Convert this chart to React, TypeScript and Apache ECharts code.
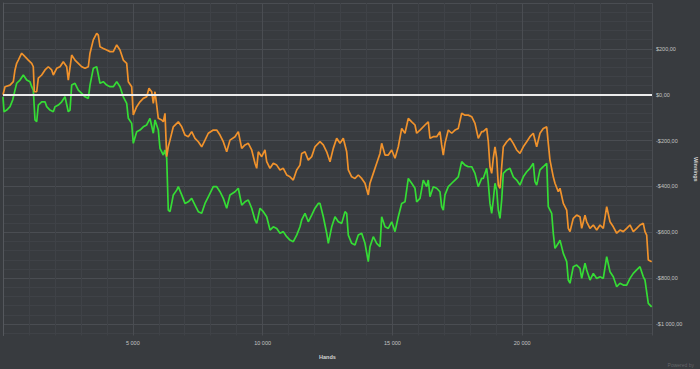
import React, { useEffect, useRef } from "react";
import * as echarts from "echarts";

const orangeHands = [
  0,77,270,398,462,527,590,720,847,975,
  1105,1167,1206,1298,1360,1491,1618,1745,1876,1938,
  2068,2196,2323,2454,2515,2646,2773,2901,3032,3159,
  3286,3351,3478,3609,3671,3736,3864,3995,4122,4249,
  4380,4507,4634,4765,4827,4957,5019,5150,5277,5404,
  5535,5624,5728,5790,5855,5921,5982,6113,6175,6240,
  6306,6367,6433,6560,6753,6884,7011,7138,7269,7396,
  7523,7654,7781,7908,8101,8232,8359,8486,8617,8744,
  8937,9064,9195,9322,9449,9580,9707,9773,9834,9965,
  10092,10158,10285,10412,10543,10670,10797,10928,11055,11182,
  11313,11440,11506,11633,11760,11891,12018,12145,12211,12338,
  12469,12596,12723,12854,12981,13108,13239,13301,13432,13559,
  13686,13817,13944,14071,14136,14264,14395,14522,14587,14715,
  14842,14973,15100,15227,15358,15485,15612,15743,15870,15935,
  16063,16255,16382,16448,16575,16706,16833,16898,16960,17025,
  17153,17284,17411,17538,17669,17796,17923,18054,18181,18308,
  18439,18500,18632,18694,18759,18825,18886,18952,19017,19079,
  19144,19210,19272,19403,19530,19656,19787,19914,20042,20173,
  20300,20427,20558,20685,20812,20944,21005,21070,21197,21263,
  21390,21456,21583,21714,21775,21841,21968,22099,22226,22292,
  22419,22484,22612,22739,22870,22997,23124,23255,23382,23509,
  23640,23767,23894,24025,24152,24279,24410,24537,24664,24730,
  24795,24857,24988,
];

const orangeWinnings = [
  0,35,42,57,108,137,151,181,166,151,
  137,122,13,13,72,86,108,122,108,86,
  115,122,144,122,64,173,151,137,122,115,
  122,181,239,268,260,209,202,195,188,188,
  217,195,151,137,57,35,-88,-52,-31,-16,
  -9,28,13,-38,13,-45,-103,-110,-118,-81,
  -270,-227,-198,-140,-118,-140,-176,-183,-161,-190,
  -205,-227,-198,-168,-154,-154,-176,-205,-249,-198,
  -183,-161,-234,-219,-212,-241,-299,-321,-249,-270,
  -241,-292,-321,-299,-307,-328,-321,-350,-358,-372,
  -328,-307,-256,-249,-285,-270,-227,-212,-205,-219,
  -249,-292,-234,-190,-212,-190,-249,-328,-358,-365,
  -350,-365,-386,-437,-386,-343,-299,-256,-212,-263,
  -263,-241,-277,-227,-147,-168,-103,-118,-132,-168,
  -154,-132,-118,-190,-183,-183,-161,-219,-263,-212,
  -154,-168,-154,-147,-81,-89,-89,-96,-125,-190,
  -161,-161,-147,-205,-314,-343,-277,-227,-277,-394,
  -408,-314,-227,-205,-190,-212,-241,-256,-227,-205,
  -183,-168,-227,-168,-147,-140,-212,-285,-358,-386,
  -423,-408,-474,-503,-583,-597,-539,-525,-532,-583,
  -525,-554,-583,-568,-590,-568,-583,-488,-554,-576,
  -604,-590,-597,-583,-568,-597,-583,-568,-561,-597,
  -612,-721,-728,
];

const greenHands = [
  0,39,142,270,373,462,527,655,783,913,
  1040,1105,1167,1233,1298,1360,1491,1618,1683,1810,
  1938,2003,2130,2261,2388,2515,2581,2646,2773,2901,
  3032,3159,3286,3351,3478,3609,3736,3864,3995,4122,
  4249,4380,4507,4634,4765,4827,4957,5019,5150,5277,
  5404,5535,5662,5790,5855,5982,6048,6175,6240,6306,
  6367,6433,6498,6560,6691,6753,6884,7011,7138,7269,
  7396,7523,7654,7781,7908,8101,8232,8359,8486,8617,
  8744,8937,9064,9195,9322,9449,9580,9707,9773,9900,
  10027,10158,10285,10412,10543,10670,10797,10928,11055,11182,
  11313,11440,11506,11633,11760,11891,12018,12145,12211,12338,
  12469,12531,12662,12789,12916,13047,13174,13239,13301,13432,
  13559,13686,13817,13944,14071,14136,14264,14395,14522,14587,
  14715,14842,14973,15100,15227,15358,15485,15612,15743,15870,
  15935,16063,16190,16321,16382,16448,16575,16706,16833,16898,
  16960,17025,17153,17284,17411,17538,17669,17796,17923,18054,
  18181,18308,18439,18500,18632,18694,18759,18825,18886,18952,
  19017,19079,19144,19210,19272,19403,19530,19656,19787,19914,
  20042,20173,20300,20427,20493,20558,20685,20812,20944,21005,
  21136,21197,21263,21390,21456,21583,21714,21775,21841,21968,
  22099,22226,22292,22419,22484,22612,22739,22870,22997,23124,
  23255,23382,23509,23640,23767,23894,24025,24152,24279,24410,
  24537,24664,24730,24857,24988,
];

const greenWinnings = [
  -9,-74,-67,-52,-23,20,50,64,86,64,
  57,35,20,-110,-118,-45,-31,-31,-52,-67,
  -74,-52,-45,-31,-9,-74,-67,42,50,20,
  6,-9,-16,42,115,122,50,57,42,35,
  35,57,35,-9,-38,-103,-125,-212,-161,-154,
  -140,-132,-103,-168,-110,-154,-234,-263,-241,-277,
  -503,-510,-474,-437,-416,-401,-437,-474,-467,-452,
  -481,-510,-517,-474,-445,-401,-401,-423,-452,-495,
  -437,-423,-408,-481,-467,-459,-495,-546,-561,-495,
  -510,-532,-590,-576,-583,-604,-597,-619,-634,-641,
  -612,-576,-546,-517,-554,-525,-495,-474,-474,-532,
  -604,-648,-576,-532,-554,-561,-510,-517,-612,-648,
  -655,-612,-604,-648,-728,-663,-619,-648,-663,-532,
  -576,-583,-554,-597,-532,-474,-467,-365,-386,-408,
  -467,-452,-372,-401,-372,-445,-401,-408,-423,-488,
  -503,-437,-401,-386,-372,-358,-292,-307,-314,-314,
  -343,-401,-365,-365,-321,-386,-474,-517,-459,-386,
  -416,-503,-539,-459,-343,-328,-321,-358,-372,-394,
  -358,-336,-321,-299,-379,-394,-328,-314,-299,-488,
  -517,-604,-670,-648,-634,-692,-728,-808,-822,-750,
  -743,-757,-801,-735,-764,-808,-779,-801,-794,-801,
  -706,-772,-794,-837,-822,-830,-830,-801,-779,-764,
  -750,-794,-808,-910,-925,
];

const xLabelValues = [5000, 10000, 15000, 20000];
const yLabelValues = [200, 0, -200, -400, -600, -800, -1000];

const BG = "#383b3f";
const MINOR = "#3f4247";
const MAJOR = "#4a4d52";
const NONE = "rgba(0,0,0,0)";

function groupThousands(n: number): string {
  return String(n).replace(/\B(?=(\d{3})+(?!\d))/g, " ");
}

function fmtMoney(v: number): string {
  const sign = v < 0 ? "-" : "";
  return sign + "$" + groupThousands(Math.abs(Math.round(v))) + ",00";
}

export default function App() {
  const ref = useRef<HTMLDivElement>(null);

  useEffect(() => {
    document.body.style.margin = "0";
    document.body.style.background = BG;
    if (!ref.current) return;
    const chart = echarts.init(ref.current, undefined, { renderer: "svg" });

    // y split lines every 10 from -1050: lines every 40 (minor), every 200 (major)
    const yColors: string[] = [];
    for (let i = 0; i < 20; i++) {
      if (i === 5) yColors.push(MAJOR);
      else if (i % 4 === 1) yColors.push(MINOR);
      else yColors.push(NONE);
    }

    const orangeData = orangeHands.map((h, i) => [h, orangeWinnings[i]]);
    const greenData = greenHands.map((h, i) => [h, greenWinnings[i]]);

    const font = "'Liberation Sans', Arial, sans-serif";

    chart.setOption({
      animation: false,
      backgroundColor: BG,
      grid: {
        left: 3,
        right: 48,
        top: 3,
        bottom: 33.5,
        containLabel: false,
        outerBoundsMode: "none",
      },
      tooltip: { show: false },
      xAxis: {
        type: "value",
        min: 0,
        max: 25000,
        interval: 1000,
        name: "Hands",
        nameLocation: "middle",
        nameGap: 18,
        nameTextStyle: { color: "#d4d4d4", fontSize: 5.5, fontWeight: "bold", fontFamily: font },
        axisLine: { show: true, lineStyle: { color: "#55585d", width: 1 } },
        axisTick: { show: false },
        axisLabel: {
          color: "#c4c4c4",
          fontSize: 5.5,
          fontFamily: font,
          margin: 4,
          showMinLabel: false,
          showMaxLabel: false,
          formatter: (v: number) => (xLabelValues.includes(v) ? groupThousands(v) : ""),
        },
        splitLine: {
          show: true,
          lineStyle: { color: [MAJOR, MINOR, MINOR, MINOR, MINOR], width: 1 },
        },
      },
      yAxis: {
        type: "value",
        position: "right",
        min: -1050,
        max: 400,
        interval: 10,
        name: "Winnings",
        nameLocation: "middle",
        nameGap: 38,
        nameRotate: -90,
        nameTextStyle: { color: "#d4d4d4", fontSize: 5.5, fontWeight: "bold", fontFamily: font },
        axisLine: { show: true, lineStyle: { color: "#55585d", width: 1 } },
        axisTick: { show: false },
        axisLabel: {
          color: "#c4c4c4",
          fontSize: 5.5,
          fontFamily: font,
          margin: 4,
          formatter: (v: number) => (yLabelValues.includes(v) ? fmtMoney(v) : ""),
        },
        splitLine: { show: true, lineStyle: { color: yColors, width: 1 } },
      },
      series: [
        {
          name: "Green",
          type: "line",
          data: greenData,
          showSymbol: false,
          symbol: "none",
          lineStyle: { color: "#35dc35", width: 1.7 },
          itemStyle: { color: "#35dc35" },
          z: 3,
        },
        {
          name: "Orange",
          type: "line",
          data: orangeData,
          showSymbol: false,
          symbol: "none",
          lineStyle: { color: "#f0922c", width: 1.7 },
          itemStyle: { color: "#f0922c" },
          z: 4,
          markLine: {
            silent: true,
            symbol: ["none", "none"],
            label: { show: false },
            lineStyle: { color: "#ececec", width: 2, type: "solid" },
            data: [{ yAxis: 0 }],
            z: 5,
          },
        },
      ],
      graphic: [
        {
          type: "text",
          right: 6,
          bottom: 2,
          style: {
            text: "Powered by",
            fill: "rgba(200,200,200,0.3)",
            fontSize: 5,
            fontFamily: font,
          },
        },
      ],
    });

    return () => chart.dispose();
  }, []);

  return <div ref={ref} style={{ width: 700, height: 369 }} />;
}
